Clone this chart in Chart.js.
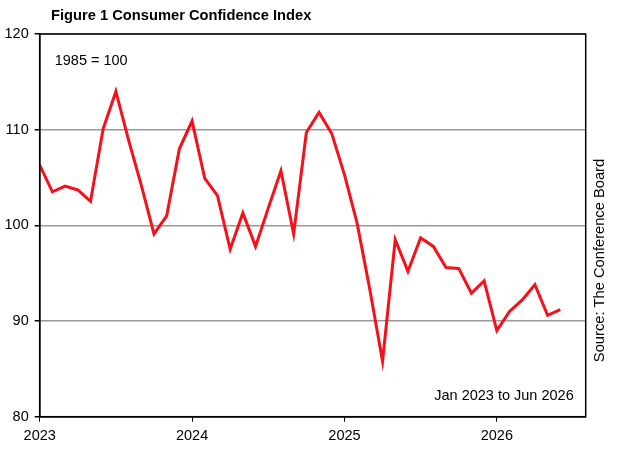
<!DOCTYPE html>
<html>
<head>
<meta charset="utf-8">
<script src="https://cdn.jsdelivr.net/npm/chart.js@4"></script>
<style>
html,body{margin:0;padding:0;background:#fff;}
#wrap{width:623px;height:449px;position:relative;}
</style>
</head>
<body>
<div id="wrap"><canvas id="c" width="623" height="449"></canvas></div>
<script>
const months = [
 'Jan 2023','Feb 2023','Mar 2023','Apr 2023','May 2023','Jun 2023','Jul 2023','Aug 2023','Sep 2023','Oct 2023','Nov 2023','Dec 2023',
 'Jan 2024','Feb 2024','Mar 2024','Apr 2024','May 2024','Jun 2024','Jul 2024','Aug 2024','Sep 2024','Oct 2024','Nov 2024','Dec 2024',
 'Jan 2025','Feb 2025','Mar 2025','Apr 2025','May 2025','Jun 2025','Jul 2025','Aug 2025','Sep 2025','Oct 2025','Nov 2025','Dec 2025',
 'Jan 2026','Feb 2026','Mar 2026','Apr 2026','May 2026','Jun 2026'
];
const confidence = [
 106.3,103.5,104.1,103.7,102.5,110.1,114.0,108.9,104.2,99.1,101.0,108.0,
 110.9,104.9,103.1,97.5,101.3,97.8,101.8,105.7,99.1,109.7,111.8,109.6,
 105.3,100.2,93.3,85.8,98.5,95.2,98.7,97.8,95.6,95.5,92.9,94.2,
 89.0,91.0,92.2,93.8,90.6,91.2
];
const yearLabels = ['2023','2024','2025','2026'];
const titleText = 'Figure 1 Consumer Confidence Index';
const baseNote = '1985 = 100';
const rangeNote = 'Jan 2023 to Jun 2026';
const sourceNote = 'Source: The Conference Board';

const points = months.map((m, i) => ({x: i, y: confidence[i]}));
const FONT = 'Liberation Sans, Arial, sans-serif';

const annotations = {
  id: 'annotations',
  afterDraw(chart) {
    const ctx = chart.ctx, a = chart.chartArea;
    ctx.save();
    ctx.strokeStyle = '#000';
    ctx.lineWidth = 1.5;
    ctx.strokeRect(a.left, a.top, a.right - a.left, a.bottom - a.top);
    ctx.fillStyle = '#000';
    ctx.font = 'bold 14.7px ' + FONT;
    ctx.textAlign = 'left';
    ctx.textBaseline = 'middle';
    ctx.fillText(titleText, 51, 16);
    ctx.font = '14.5px ' + FONT;
    ctx.fillText(baseNote, a.left + 15, a.top + 27);
    ctx.textAlign = 'right';
    ctx.fillText(rangeNote, a.right - 12, a.bottom - 21);
    ctx.font = '14.7px ' + FONT;
    ctx.translate(a.right + 14, 260.5);
    ctx.rotate(-Math.PI / 2);
    ctx.textAlign = 'center';
    ctx.fillText(sourceNote, 0, 0);
    ctx.restore();
  }
};

new Chart(document.getElementById('c'), {
  type: 'line',
  data: {
    datasets: [{
      label: 'Consumer Confidence Index',
      data: points,
      borderColor: '#f5101a',
      borderWidth: 3,
      pointRadius: 0,
      tension: 0,
      fill: false
    }]
  },
  options: {
    responsive: false,
    animation: false,
    devicePixelRatio: 1,
    layout: {padding: {top: 34, right: 37.3, left: 0, bottom: 0}},
    plugins: {legend: {display: false}, title: {display: false}, tooltip: {enabled: false}},
    scales: {
      x: {
        type: 'linear',
        min: 0,
        max: 43,
        afterFit(s) { s.height = 32.3; },
        border: {display: true, color: '#000', width: 1.5},
        grid: {display: true, drawOnChartArea: false, drawTicks: true, tickLength: 5, color: '#000', tickColor: '#000', lineWidth: 1},
        ticks: {
          stepSize: 12,
          includeBounds: false,
          autoSkip: false,
          maxRotation: 0,
          padding: 6,
          color: '#000',
          font: {family: FONT, size: 14.5},
          callback: (v) => (v % 12 === 0 ? yearLabels[v / 12] : '')
        }
      },
      y: {
        min: 80,
        max: 120,
        afterFit(s) { s.width = 39.7; },
        border: {display: true, color: '#000', width: 1.5},
        grid: {color: '#9a9a9a', lineWidth: 1.5, tickColor: '#000', tickLength: 5, drawTicks: true},
        ticks: {
          stepSize: 10,
          padding: 6,
          color: '#000',
          font: {family: FONT, size: 14.5}
        }
      }
    }
  },
  plugins: [annotations]
});
</script>
</body>
</html>
